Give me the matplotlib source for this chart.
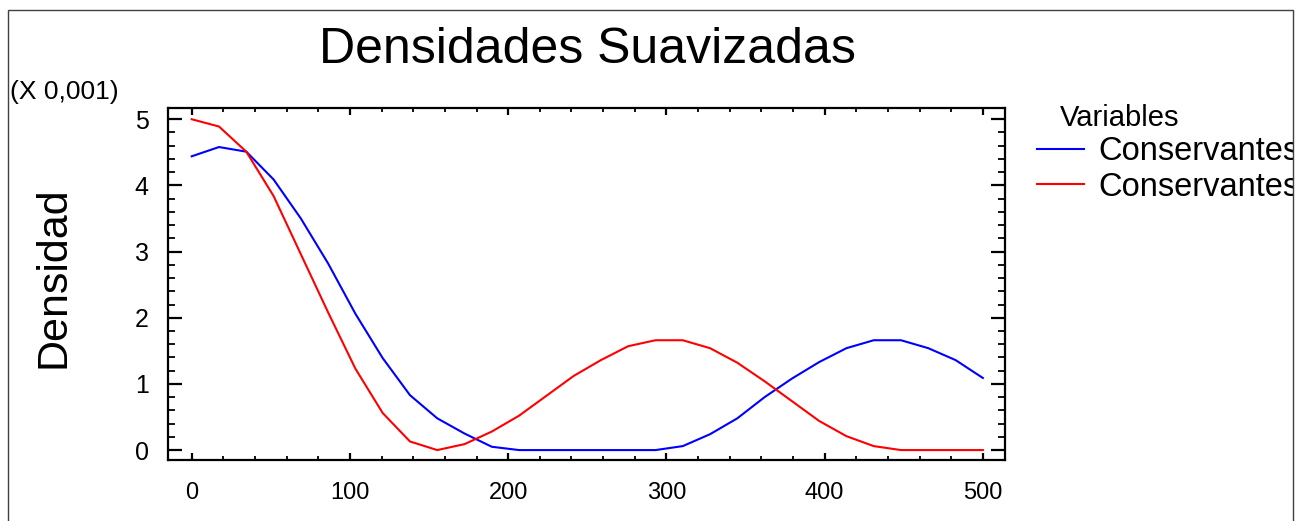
import numpy as np
import matplotlib
matplotlib.use("Agg")
import matplotlib.pyplot as plt
from matplotlib.patches import Rectangle
from matplotlib.transforms import Bbox

# datos (densidad x 0,001), 30 puntos de 0 a 500
x = np.linspace(0, 500, 30)
conservantes_azul = [4.44, 4.58, 4.51, 4.09, 3.50, 2.82, 2.06, 1.39, 0.83, 0.48,
                     0.25, 0.05, 0.0, 0.0, 0.0, 0.0, 0.0, 0.0, 0.06, 0.24,
                     0.48, 0.80, 1.08, 1.33, 1.54, 1.66, 1.66, 1.54, 1.36, 1.09]
conservantes_rojo = [5.00, 4.89, 4.51, 3.84, 2.96, 2.08, 1.23, 0.56, 0.13, 0.0,
                     0.09, 0.28, 0.52, 0.82, 1.12, 1.36, 1.57, 1.66, 1.66, 1.54,
                     1.32, 1.04, 0.74, 0.44, 0.21, 0.06, 0.0, 0.0, 0.0, 0.0]
etiquetas = ["Conservantes", "Conservantes"]

W, H = 1297, 521
plt.rcParams['font.family'] = ["Liberation Sans", "DejaVu Sans"]

fig = plt.figure(figsize=(W / 100, H / 100), dpi=100)
ax = fig.add_axes([168 / W, 1 - 460 / H, (1005 - 168) / W, (460 - 108) / H])

l1, = ax.plot(x, conservantes_azul, color="#0000FF", lw=1.5)
l2, = ax.plot(x, conservantes_rojo, color="#FF0000", lw=1.5)

ax.set_xlim(-15, 514)
ax.set_ylim(-0.15, 5.17)
ax.set_xticks(np.arange(0, 501, 100))
ax.set_xticks(np.arange(0, 501, 20), minor=True)
ax.set_yticks(np.arange(0, 6, 1))
ax.set_yticks(np.arange(0, 5.01, 0.2), minor=True)

for s in ax.spines.values():
    s.set_linewidth(1.6)
ax.tick_params(axis="x", which="major", direction="in", top=True, length=5, width=1.6,
               labelsize=17, pad=16)
ax.tick_params(axis="x", which="minor", direction="in", top=True, length=3, width=1.3)
ax.tick_params(axis="y", which="major", direction="in", right=True, length=10, width=1.6,
               labelsize=18, pad=14)
ax.tick_params(axis="y", which="minor", direction="in", right=True, length=5, width=1.3)

fig.text(587 / W, 1 - 50 / H, "Densidades Suavizadas", fontsize=36,
         ha="center", va="center")
fig.text(10 / W, 1 - 92 / H, "(X 0,001)", fontsize=19, ha="left", va="center")
fig.text(53 / W, 1 - 277 / H, "Densidad", fontsize=31, rotation=90,
         ha="center", va="center")

# leyenda fuera del area, recortada por el marco
fig.text(1060 / W, 1 - 118 / H, "Variables", fontsize=21, ha="left", va="center")
leg = ax.legend([l1, l2], etiquetas, loc="upper left",
                bbox_to_anchor=(1037 / W, 1 - 136 / H), bbox_transform=fig.transFigure,
                frameon=False, fontsize=23.5, handlelength=1.45, handletextpad=0.42,
                labelspacing=0.15, borderpad=0, borderaxespad=0)
clip = Bbox.from_extents(0, 0, 1293, H)
for t in leg.get_texts():
    t.set_clip_box(clip)
    t.set_clip_on(True)

# marco exterior
fig.patches.append(Rectangle((8 / W, -0.1), (1293 - 8) / W, 1.1 - 10 / H,
                             transform=fig.transFigure, fill=False,
                             edgecolor="#404040", lw=1))

fig.savefig("out.png", dpi=100)
